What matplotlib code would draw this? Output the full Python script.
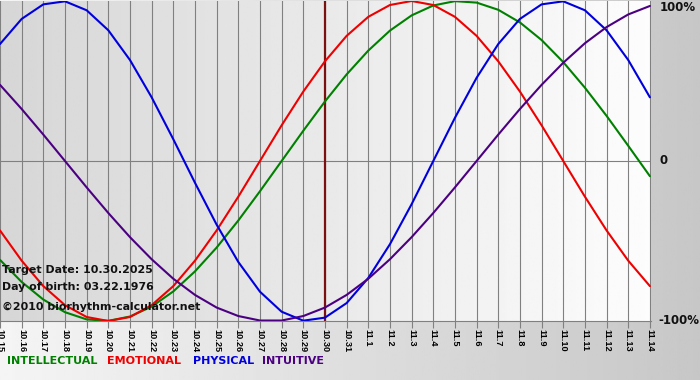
import matplotlib
matplotlib.use("Agg")
import matplotlib.pyplot as plt
import numpy as np

# days shown, 10.15 .. 11.14 (target 10.30 in the middle)
day_labels = ["10.15", "10.16", "10.17", "10.18", "10.19", "10.20", "10.21", "10.22",
              "10.23", "10.24", "10.25", "10.26", "10.27", "10.28", "10.29", "10.30",
              "10.31", "11.1", "11.2", "11.3", "11.4", "11.5", "11.6", "11.7", "11.8",
              "11.9", "11.10", "11.11", "11.12", "11.13", "11.14"]
target_label = "10.30"

intellectual = [-0.618, -0.756, -0.866, -0.945, -0.990, -0.999, -0.972, -0.910, -0.815,
                -0.690, -0.541, -0.372, -0.189, 0.000, 0.189, 0.372, 0.541, 0.690, 0.815,
                0.910, 0.972, 0.999, 0.990, 0.945, 0.866, 0.756, 0.618, 0.458, 0.282,
                0.095, -0.095]
emotional = [-0.434, -0.623, -0.782, -0.901, -0.975, -1.000, -0.975, -0.901, -0.782,
             -0.623, -0.434, -0.223, 0.000, 0.223, 0.434, 0.623, 0.782, 0.901, 0.975,
             1.000, 0.975, 0.901, 0.782, 0.623, 0.434, 0.223, 0.000, -0.223, -0.434,
             -0.623, -0.782]
physical = [0.731, 0.888, 0.979, 0.998, 0.942, 0.817, 0.631, 0.398, 0.136, -0.136,
            -0.398, -0.631, -0.817, -0.942, -0.998, -0.979, -0.888, -0.731, -0.520,
            -0.270, 0.000, 0.270, 0.520, 0.731, 0.888, 0.979, 0.998, 0.942, 0.817,
            0.631, 0.398]
intuitive = [0.476, 0.325, 0.165, 0.000, -0.165, -0.325, -0.476, -0.614, -0.736, -0.837,
             -0.916, -0.969, -0.997, -0.997, -0.969, -0.916, -0.837, -0.736, -0.614,
             -0.476, -0.325, -0.165, 0.000, 0.165, 0.325, 0.476, 0.614, 0.736, 0.837,
             0.916, 0.969]

series = [("INTELLECTUAL", intellectual, "#008000"),
          ("EMOTIONAL", emotional, "#ee0000"),
          ("PHYSICAL", physical, "#0000dd"),
          ("INTUITIVE", intuitive, "#4b0082")]

info_lines = ["Target Date: 10.30.2025", "Day of birth: 03.22.1976",
              "\u00a92010 biorhythm-calculator.net"]

plt.rcParams["font.family"] = "DejaVu Sans"
W, H = 700, 380
fig = plt.figure(figsize=(W / 100, H / 100), dpi=100)

# outer background: light on the left, grey on the right
bg = fig.add_axes([0, 0, 1, 1])
bg.imshow(np.linspace(0.96, 0.78, 256)[None, :], cmap="gray", vmin=0, vmax=1,
          aspect="auto", extent=[0, 1, 0, 1])
bg.set_axis_off()

left, right, top, bottom = 0, 651, 1, 321
ax = fig.add_axes([left / W, 1 - bottom / H, (right - left) / W, (bottom - top) / H])
x = np.arange(len(day_labels))
xmax = len(day_labels) - 1 + 0.05
ax.set_xlim(0, xmax)
ax.set_ylim(-1, 1)

# plot area: grey on the left fading to white
ax.imshow(np.linspace(0.84, 0.99, 256)[None, :], cmap="gray", vmin=0, vmax=1,
          aspect="auto", extent=[0, xmax, -1, 1], zorder=0)

for xi in x:
    ax.axvline(xi, color="#808080", lw=0.8, zorder=1)
ax.axhline(0, color="#808080", lw=0.8, zorder=1)

ti = day_labels.index(target_label)
ax.axvline(ti, color="#7a1010", lw=1.6, zorder=2)

for name, vals, col in series:
    ax.plot(x, vals, color=col, lw=1.5, zorder=3, solid_capstyle="round",
            solid_joinstyle="round")

for s in ["top", "right", "left"]:
    ax.spines[s].set_visible(False)
ax.spines["bottom"].set_color("#808080")
ax.spines["bottom"].set_linewidth(0.8)

ax.set_yticks([])
ax.set_xticks(x)
ax.set_xticklabels(day_labels, rotation=270, fontsize=6.6, fontweight="bold",
                   family="Liberation Sans")
ax.tick_params(axis="x", direction="out", length=5, width=0.8, color="#808080", pad=1)

for yv, lab, xo in [(0.96, "100%", 1.013), (0, "0", 1.013), (-1, "-100%", 1.011)]:
    ax.text(xo, yv, lab, transform=ax.get_yaxis_transform(),
            ha="left", va="center", fontsize=8.5, fontweight="bold", color="#111111")

for i, line in enumerate(info_lines):
    yy = [270, 287, 307][i]
    fig.text(2 / W, 1 - yy / H, line, ha="left", va="center", fontsize=7.9,
             fontweight="bold", color="#111111")

lx = [7, 107, 193, 262]
for (name, vals, col), px in zip(series, lx):
    fig.text(px / W, 1 - 361 / H, name, ha="left", va="center", fontsize=8.0,
             fontweight="bold", color=col)

fig.savefig("out.png", dpi=100)
